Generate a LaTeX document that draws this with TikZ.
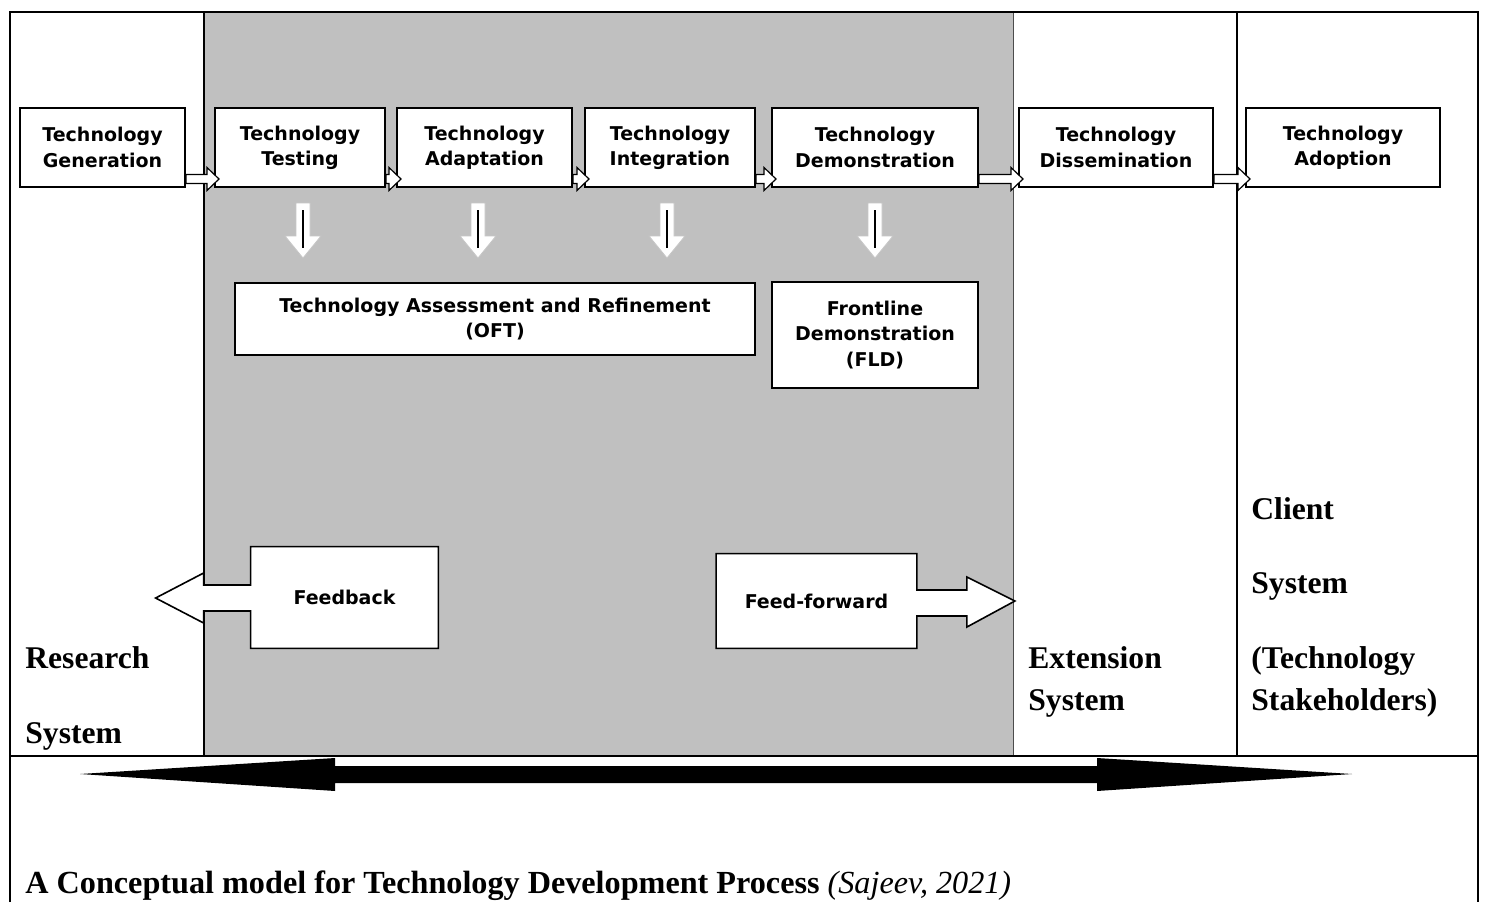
\documentclass[tikz,border=0pt]{standalone}
\usepackage{fontspec}
\setmainfont{Liberation Serif}
\newfontfamily\boxfont{DejaVu Sans}
\usetikzlibrary{calc}
\pgfdeclarelayer{bg}
\pgfdeclarelayer{mid}
\pgfsetlayers{bg,mid,main}
\definecolor{graybg}{HTML}{C0C0C0}
\tikzset{
  box/.style={draw=black, line width=1pt, fill=white, align=center, inner sep=0pt,
    font=\boxfont\bfseries\fontsize{9.5}{12.6}\selectfont},
  plain/.style={align=center, inner sep=0pt,
    font=\boxfont\bfseries\fontsize{9.5}{12.6}\selectfont},
  lbl/.style={anchor=base west, inner sep=0pt, font=\bfseries\fontsize{15.8}{19}\selectfont},
  hollow/.style={draw=black, line width=0.6pt, fill=white},
  downarr/.style={draw=gray!45, line width=0.4pt, fill=white},
  outline/.style={draw=black, line width=0.8pt, fill=white},
  frame/.style={draw=black, line width=1pt}
}
\newcommand\smallarr[2]{%
  \draw[hollow] ($(#1.south east)+(0,-13.5)$) -- ($(#2.south west)+(-7,-13.5)$)
    -- ($(#2.south west)+(-7,-20.5)$) -- ($(#2.south west)+(5,-9)$)
    -- ($(#2.south west)+(-7,2.5)$) -- ($(#2.south west)+(-7,-4.5)$)
    -- ($(#1.south east)+(0,-4.5)$) -- cycle;}
\newcommand\downarr[2]{%
  \draw[downarr] ($(#1.south)+(#2-7,15)$) -- ($(#1.south)+(#2+7,15)$)
    -- ($(#1.south)+(#2+7,48)$) -- ($(#1.south)+(#2+18,48)$)
    -- ($(#1.south)+(#2,70)$) -- ($(#1.south)+(#2-18,48)$)
    -- ($(#1.south)+(#2-7,48)$) -- cycle;
  \draw[line width=0.6pt] ($(#1.south)+(#2,22)$) -- ($(#1.south)+(#2,60)$);}
\begin{document}
\begin{tikzpicture}[x=0.5pt,y=-0.5pt]
\useasboundingbox (0,0) rectangle (1485,902);
% background and frame
\begin{pgfonlayer}{bg}
  \fill[white] (0,0) rectangle (1485,902);
  \fill[graybg] (204,12) rectangle (1013,756);
  \draw[gray!60!black, line width=0.5pt] (1013,12) -- (1013,756);
  \draw[frame, line width=1.3pt] (10,902) -- (10,12) -- (1478,12) -- (1478,902);
  \draw[frame] (10,756) -- (1478,756);
  \draw[frame] (204,12) -- (204,756);
  \draw[frame] (1237,12) -- (1237,756);
\end{pgfonlayer}

% top boxes
\node[box, minimum width=82.5pt, minimum height=39.5pt] (gen) at (102.5,147.5) {Technology\\Generation};
\node[box, minimum width=85pt, minimum height=39.5pt] (test) at (300,147.5) {Technology\\Testing};
\node[box, minimum width=87.5pt, minimum height=39.5pt] (adapt) at (484.5,147.5) {Technology\\Adaptation};
\node[box, minimum width=85pt, minimum height=39.5pt] (integ) at (670,147.5) {Technology\\Integration};
\node[box, minimum width=103pt, minimum height=39.5pt] (demo) at (875,147.5) {Technology\\Demonstration};
\node[box, minimum width=97pt, minimum height=39.5pt] (dissem) at (1116,147.5) {Technology\\Dissemination};
\node[box, minimum width=97pt, minimum height=39.5pt] (adopt) at (1343,147.5) {Technology\\Adoption};

\smallarr{gen}{test}
\smallarr{test}{adapt}
\smallarr{adapt}{integ}
\smallarr{integ}{demo}
\smallarr{demo}{dissem}
\smallarr{dissem}{adopt}

\downarr{test}{3}
\downarr{adapt}{-6.5}
\downarr{integ}{-3}
\downarr{demo}{0}

% lower boxes
\node[box, minimum width=260pt, minimum height=36pt] (oft) at (495,319) {Technology Assessment and Refinement\\(OFT)};
\node[box, minimum width=103pt, minimum height=53pt] (fld) at (875,335) {Frontline\\Demonstration\\(FLD)};

% feedback
\node[plain, minimum width=93.5pt, minimum height=50.5pt] (fb) at (344.5,597.5) {Feedback};
\begin{pgfonlayer}{mid}
\draw[outline] (fb.north west) -- (fb.north east) -- (fb.south east) -- (fb.south west)
  -- ($(fb.west)+(0,13.5)$) -- ($(fb.west)+(-47,13.5)$) -- ($(fb.west)+(-47,25.5)$)
  -- ($(fb.west)+(-95,0.5)$) -- ($(fb.west)+(-47,-24.5)$) -- ($(fb.west)+(-47,-12.5)$)
  -- ($(fb.west)+(0,-12.5)$) -- cycle;
\end{pgfonlayer}

% feed-forward
\node[plain, minimum width=100pt, minimum height=47pt] (ff) at (816.5,601) {\raisebox{-4pt}{Feed-forward}};
\begin{pgfonlayer}{mid}
\draw[outline] (ff.south east) -- (ff.south west) -- (ff.north west) -- (ff.north east)
  -- ($(ff.east)+(0,-11)$) -- ($(ff.east)+(50,-11)$) -- ($(ff.east)+(50,-24)$)
  -- ($(ff.east)+(98,0)$) -- ($(ff.east)+(50,26)$) -- ($(ff.east)+(50,15)$)
  -- ($(ff.east)+(0,15)$) -- cycle;
\end{pgfonlayer}

% big double arrow
\coordinate (bl) at (80,774);
\coordinate (br) at (1352,774);
\fill[black] (bl) -- ($(bl)+(255,-16)$) -- ($(bl)+(255,-8)$) -- ($(br)+(-255,-8)$)
  -- ($(br)+(-255,-16)$) -- (br) -- ($(br)+(-255,17)$) -- ($(br)+(-255,9)$)
  -- ($(bl)+(255,9)$) -- ($(bl)+(255,17)$) -- cycle;

% system labels
\node[lbl] (res1) at (25,668) {Research};
\node[lbl] (res2) at (25,743) {System};
\node[lbl] (ext1) at (1028,668) {Extension};
\node[lbl] (ext2) at (1028,710) {System};
\node[lbl] (cli1) at (1251,519) {Client};
\node[lbl] (cli2) at (1251,593) {System};
\node[lbl] (cli3) at (1251,668) {(Technology};
\node[lbl] (cli4) at (1251,710) {Stakeholders)};

% caption
\node[lbl, font=\bfseries\fontsize{16.1}{19}\selectfont] (cap) at (25,893) {A Conceptual model for Technology Development Process \textit{\mdseries (Sajeev, 2021)}};
\end{tikzpicture}
\end{document}
